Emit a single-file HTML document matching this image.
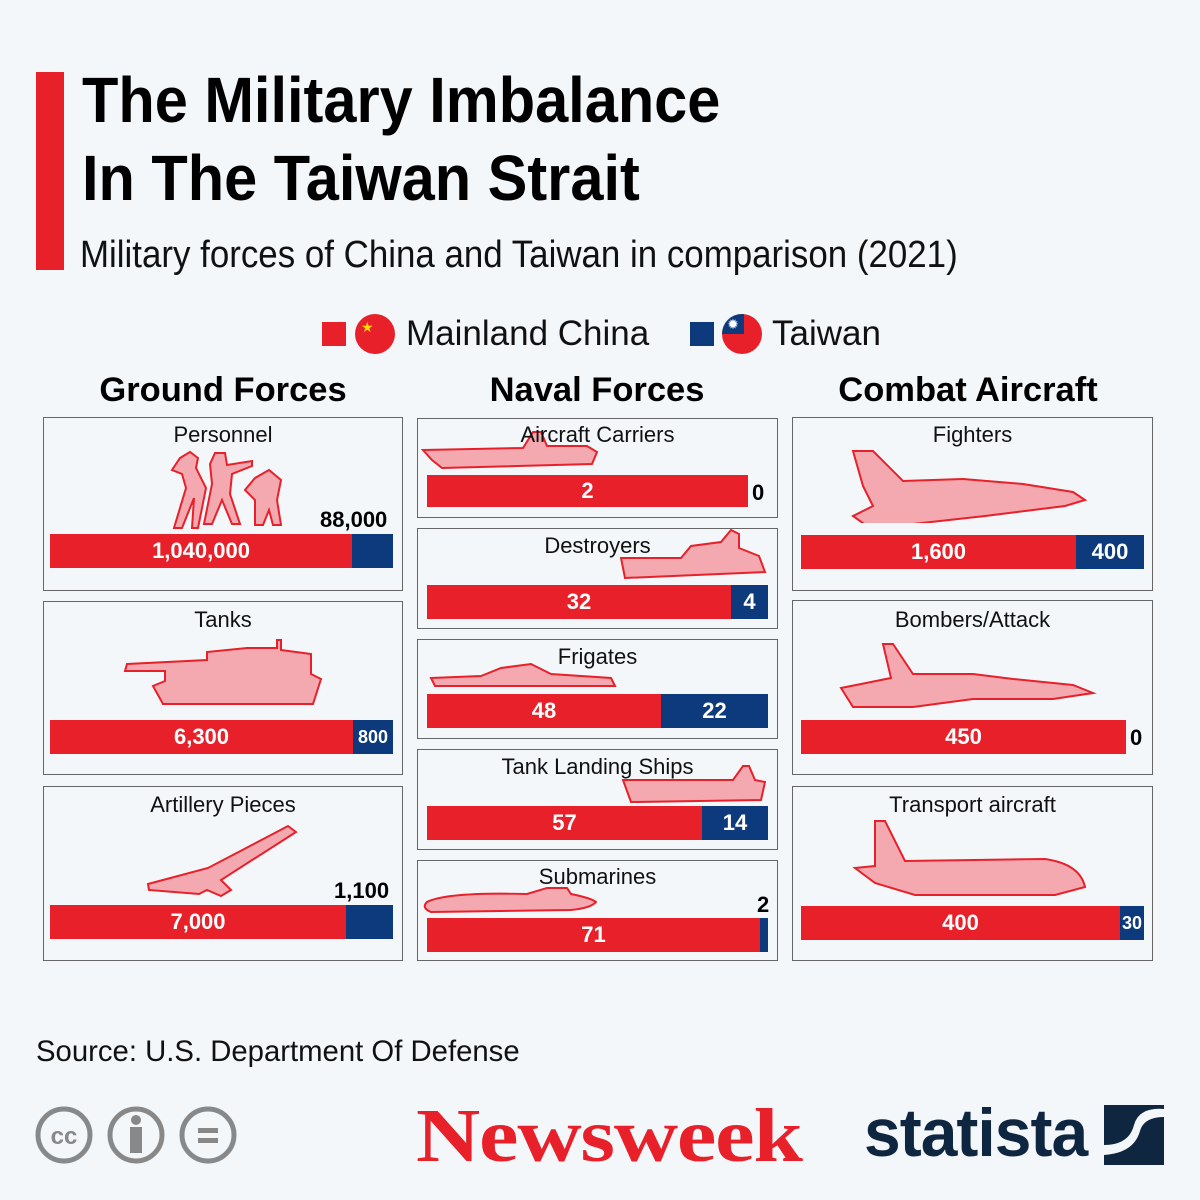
<!DOCTYPE html>
<html><head><style>
body{margin:0;width:1200px;height:1200px;background:#f3f7fa;position:relative;overflow:hidden;font-family:"Liberation Sans",sans-serif;}
.a{position:absolute;}
.t{font-weight:bold;font-size:64px;color:#000;transform:scaleX(0.93);transform-origin:left top;white-space:nowrap;line-height:1;}
.p{position:absolute;border:1.5px solid #666;background:#f3f7fa;box-sizing:border-box;}
.lab{position:absolute;font-size:22px;color:#111;text-align:center;white-space:nowrap;}
.r{position:absolute;background:#e8202a;color:#fff;font-weight:bold;font-size:22px;display:flex;align-items:center;justify-content:center;}
.b{position:absolute;background:#0c3a7c;color:#fff;font-weight:bold;font-size:22px;display:flex;align-items:center;justify-content:center;}
.v{position:absolute;font-weight:bold;font-size:22px;color:#000;}
.h{position:absolute;font-weight:bold;font-size:34.5px;color:#000;text-align:center;width:360px;top:371px;}
svg.i{position:absolute;}
.sh{fill:#f4a9b0;stroke:#e8202a;stroke-width:2;}
</style></head><body>
<div class="a" style="left:36px;top:72px;width:28px;height:198px;background:#e8202a"></div>
<div class="a t" style="left:82px;top:68px">The Military Imbalance</div>
<div class="a t" style="left:82px;top:146px">In The Taiwan Strait</div>
<div class="a" style="left:80px;top:234px;font-size:38px;transform:scaleX(0.918);transform-origin:left top;white-space:nowrap;color:#111">Military forces of China and Taiwan in comparison (2021)</div>

<div class="a" style="left:322px;top:322px;width:24px;height:24px;background:#e8202a"></div>
<div class="a" style="left:355px;top:314px;width:40px;height:40px;border-radius:50%;background:#e8202a;color:#ffde00;font-size:14px;line-height:26px;text-indent:6px">★</div>
<div class="a" style="left:406px;top:314px;font-size:35px;color:#111">Mainland China</div>
<div class="a" style="left:690px;top:322px;width:24px;height:24px;background:#0c3a7c"></div>
<div class="a" style="left:722px;top:314px;width:40px;height:40px;border-radius:50%;background:#e8202a;overflow:hidden"><div style="width:22px;height:20px;background:#0c3a7c;color:#fff;font-size:14px;line-height:20px;text-align:center">✹</div></div>
<div class="a" style="left:772px;top:314px;font-size:35px;color:#111">Taiwan</div>

<div class="h" style="left:43px">Ground Forces</div>
<div class="h" style="left:417px">Naval Forces</div>
<div class="h" style="left:788px">Combat Aircraft</div>

<!-- col1 -->
<div class="p" style="left:43px;top:417px;width:360px;height:174px"></div>
<div class="lab" style="left:43px;top:422px;width:360px">Personnel</div>
<svg class="i" style="left:160px;top:448px" width="130" height="82"><path class="sh" d="M20 10 l10 -6 8 6 -2 10 10 20 -8 40 -6 0 2 -30 -12 30 -8 0 12 -40 -4 -14 -10 -4z M55 5 l10 0 2 12 25 -4 0 5 -20 8 -2 20 10 30 -8 0 -10 -24 -10 24 -8 0 8 -40 -2 -20z M95 30 l14 -8 12 10 -4 20 4 25 -8 0 -4 -15 -6 15 -8 0 0 -25 -10 -10z"/></svg>
<div class="v" style="left:320px;top:507px">88,000</div>
<div class="r" style="left:50px;top:534px;width:302px;height:34px">1,040,000</div>
<div class="b" style="left:352px;top:534px;width:41px;height:34px"></div>

<div class="p" style="left:43px;top:601px;width:360px;height:174px"></div>
<div class="lab" style="left:43px;top:607px;width:360px">Tanks</div>
<svg class="i" style="left:122px;top:636px" width="205" height="75"><path class="sh" d="M5 28 l80 -4 0 -8 40 -4 30 0 0 -8 4 0 0 10 30 4 0 20 10 5 -8 25 -150 0 -10 -18 12 -5 0 -10 -40 0z"/></svg>
<div class="r" style="left:50px;top:720px;width:303px;height:34px">6,300</div>
<div class="b" style="left:353px;top:720px;width:40px;height:34px;font-size:18px">800</div>

<div class="p" style="left:43px;top:786px;width:360px;height:175px"></div>
<div class="lab" style="left:43px;top:792px;width:360px">Artillery Pieces</div>
<svg class="i" style="left:145px;top:822px" width="160" height="75"><path class="sh" d="M3 62 l60 -16 80 -42 8 6 -75 48 10 10 -10 6 -14 -6 -8 4 -50 -4z"/></svg>
<div class="v" style="left:334px;top:878px">1,100</div>
<div class="r" style="left:50px;top:905px;width:296px;height:34px">7,000</div>
<div class="b" style="left:346px;top:905px;width:47px;height:34px"></div>

<!-- col2 -->
<div class="p" style="left:417px;top:418px;width:361px;height:100px"></div>
<svg class="i" style="left:420px;top:428px" width="180" height="42"><path class="sh" d="M3 22 l100 -2 10 -16 8 0 6 14 40 0 10 6 -5 12 -150 4 -10 -8z"/></svg>
<div class="lab" style="left:417px;top:422px;width:361px">Aircraft Carriers</div>
<div class="r" style="left:427px;top:475px;width:321px;height:32px">2</div>
<div class="v" style="left:752px;top:480px">0</div>

<div class="p" style="left:417px;top:528px;width:361px;height:101px"></div>
<svg class="i" style="left:618px;top:528px" width="150" height="52"><path class="sh" d="M3 30 l60 0 10 -12 30 -4 10 -12 8 4 0 14 20 8 6 16 -140 6z"/></svg>
<div class="lab" style="left:417px;top:533px;width:361px">Destroyers</div>
<div class="r" style="left:427px;top:585px;width:304px;height:34px">32</div>
<div class="b" style="left:731px;top:585px;width:37px;height:34px">4</div>

<div class="p" style="left:417px;top:639px;width:361px;height:100px"></div>
<div class="lab" style="left:417px;top:644px;width:361px">Frigates</div>
<svg class="i" style="left:428px;top:660px" width="190" height="30"><path class="sh" d="M3 18 l50 -2 20 -8 30 -4 20 10 60 4 4 8 -180 0z"/></svg>
<div class="r" style="left:427px;top:694px;width:234px;height:34px">48</div>
<div class="b" style="left:661px;top:694px;width:107px;height:34px">22</div>

<div class="p" style="left:417px;top:749px;width:361px;height:101px"></div>
<svg class="i" style="left:620px;top:762px" width="148" height="42"><path class="sh" d="M3 18 l110 0 10 -14 6 0 6 14 10 2 -4 18 -130 2z"/></svg>
<div class="lab" style="left:417px;top:754px;width:361px">Tank Landing Ships</div>
<div class="r" style="left:427px;top:806px;width:275px;height:34px">57</div>
<div class="b" style="left:702px;top:806px;width:66px;height:34px">14</div>

<div class="p" style="left:417px;top:860px;width:361px;height:101px"></div>
<svg class="i" style="left:422px;top:886px" width="180" height="30"><path class="sh" d="M5 16 q20 -10 100 -8 l20 -6 20 0 4 6 q20 4 25 8 q-5 6 -25 8 l-140 2 q-10 -4 -4 -10z"/></svg>
<div class="lab" style="left:417px;top:864px;width:361px">Submarines</div>
<div class="v" style="left:757px;top:892px">2</div>
<div class="r" style="left:427px;top:918px;width:333px;height:34px">71</div>
<div class="b" style="left:760px;top:918px;width:8px;height:34px"></div>

<!-- col3 -->
<div class="p" style="left:792px;top:417px;width:361px;height:174px"></div>
<div class="lab" style="left:792px;top:422px;width:361px">Fighters</div>
<svg class="i" style="left:848px;top:448px" width="242" height="75"><path class="sh" d="M5 3 l20 0 30 30 60 -2 60 5 50 8 12 8 -20 6 -80 10 -90 10 -28 0 -14 -10 20 -10 -10 -20z"/></svg>
<div class="r" style="left:801px;top:535px;width:275px;height:34px">1,600</div>
<div class="b" style="left:1076px;top:535px;width:68px;height:34px">400</div>

<div class="p" style="left:792px;top:600px;width:361px;height:175px"></div>
<div class="lab" style="left:792px;top:607px;width:361px">Bombers/Attack</div>
<svg class="i" style="left:838px;top:640px" width="262" height="68"><path class="sh" d="M3 48 l30 -6 20 -4 -8 -34 10 0 20 30 60 0 40 5 60 6 20 8 -40 6 -80 0 -60 8 -60 0z"/></svg>
<div class="r" style="left:801px;top:720px;width:325px;height:34px">450</div>
<div class="v" style="left:1130px;top:725px">0</div>

<div class="p" style="left:792px;top:786px;width:361px;height:175px"></div>
<div class="lab" style="left:792px;top:792px;width:361px">Transport aircraft</div>
<svg class="i" style="left:850px;top:818px" width="238" height="80"><path class="sh" d="M5 50 l20 -2 0 -45 10 0 20 40 140 -2 q35 5 40 28 l-30 8 -140 0 -40 -12z"/></svg>
<div class="r" style="left:801px;top:906px;width:319px;height:34px">400</div>
<div class="b" style="left:1120px;top:906px;width:24px;height:34px;font-size:18px">30</div>

<div class="a" style="left:36px;top:1035px;font-size:29.3px;color:#111">Source: U.S. Department Of Defense</div>

<svg class="a" style="left:34px;top:1104px" width="210" height="62"><g fill="none" stroke="#888" stroke-width="5"><circle cx="30" cy="31" r="26"/><circle cx="102" cy="31" r="26"/><circle cx="174" cy="31" r="26"/></g>
<text x="30" y="40" font-size="24" font-weight="bold" fill="#888" text-anchor="middle" font-family="Liberation Sans">cc</text>
<circle cx="102" cy="16" r="5" fill="#888"/><rect x="96" y="23" width="12" height="26" fill="#888"/>
<rect x="164" y="24" width="20" height="5" fill="#888"/><rect x="164" y="34" width="20" height="5" fill="#888"/></svg>
<div class="a" style="left:416px;top:1098px;font-family:'Liberation Serif',serif;font-weight:bold;font-size:76px;color:#e8202a;letter-spacing:-1px;transform:scaleX(1.17);transform-origin:left top;line-height:1">Newsweek</div>
<div class="a" style="left:864px;top:1094px;font-weight:bold;font-size:68px;color:#0f2640;transform:scaleX(0.97);transform-origin:left top;letter-spacing:-1px">statista</div>
<svg class="a" style="left:1104px;top:1105px" width="60" height="60"><rect width="60" height="60" fill="#0f2640"/><path d="M0 40 q25 0 30 -20 q5 -18 30 -16 l0 8 q-20 0 -24 14 q-6 22 -36 24z" fill="#f3f7fa"/></svg>
</body></html>
